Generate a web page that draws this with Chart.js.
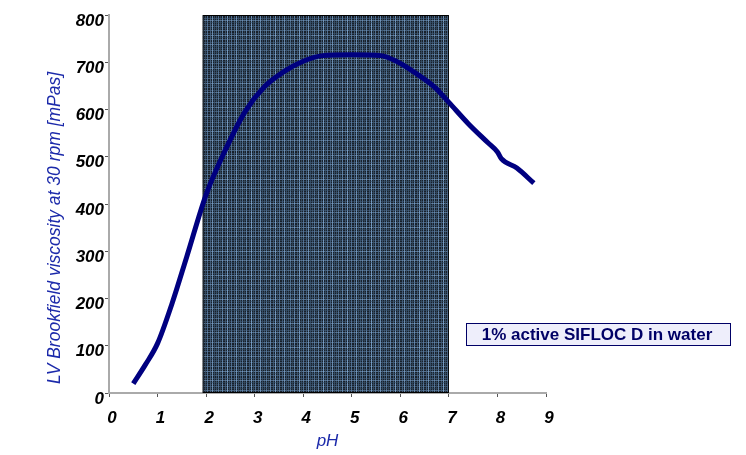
<!DOCTYPE html>
<html>
<head>
<meta charset="utf-8">
<script src="https://cdn.jsdelivr.net/npm/chart.js@4/dist/chart.umd.min.js"></script>
<style>
  html, body { margin: 0; padding: 0; background: #fff; }
  #wrap { width: 746px; height: 455px; }
</style>
</head>
<body>
<div id="wrap"><canvas id="grafica"></canvas></div>
<script>
// valores
const phValues = [0.5, 0.75, 1.0, 1.3, 1.6, 2.0, 2.4, 2.8, 3.2, 3.6, 4.0, 4.4, 5.0, 5.6, 5.9, 6.3, 6.7, 7.0, 7.4, 7.8, 8.0, 8.08, 8.4, 8.75]
const viscosity = [20, 60, 105, 190, 288, 420, 515, 595, 648, 680, 702, 714, 716, 714, 703, 678, 648, 615, 570, 530, 510, 496, 476, 444]
const xTicks = [0, 1, 2, 3, 4, 5, 6, 7, 8, 9]
const yTicks = [0, 100, 200, 300, 400, 500, 600, 700, 800]
const shadeRange = [1.93, 7.0]
const boxLabel = '1% active SIFLOC D in water'
const yTitle = 'LV Brookfield viscosity at 30 rpm [mPas]'

// textura cuadriculada de la zona sombreada
function makePattern(ctx) {
    const c = document.createElement('canvas')
    c.width = 24; c.height = 24
    const p = c.getContext('2d')
    p.fillStyle = '#18202a'
    p.fillRect(0, 0, 24, 24)
    const cols = [[0, '#3f5a76'], [2, '#5d82a8'], [4, '#33485e'], [6, '#6b93bd'], [9, '#445f7c'],
                  [11, '#86b0dc'], [13, '#3a536c'], [15, '#5c80a6'], [18, '#4b6888'], [20, '#7aa2cc'], [22, '#3b5570']]
    cols.forEach(([pos, col]) => {
        p.fillStyle = col
        p.globalAlpha = 0.8
        p.fillRect(pos, 0, 1, 24)
        p.globalAlpha = 0.55
        p.fillRect(0, pos, 24, 1)
    })
    p.globalAlpha = 1
    return ctx.createPattern(c, 'repeat')
}

const extras = {
    id: 'extras',
    beforeDatasetsDraw(chart) {
        const {ctx, scales: {x, y}} = chart
        const x0 = x.getPixelForValue(shadeRange[0])
        const x1 = x.getPixelForValue(shadeRange[1])
        ctx.save()
        ctx.fillStyle = makePattern(ctx)
        ctx.fillRect(x0, y.top, x1 - x0, y.bottom - y.top)
        ctx.strokeStyle = '#000'
        ctx.lineWidth = 1
        ctx.strokeRect(x0 + 0.5, y.top + 0.5, x1 - x0 - 1, y.bottom - y.top - 1)
        ctx.restore()
    },
    afterDraw(chart) {
        const ctx = chart.ctx
        ctx.save()
        // caja de texto
        ctx.fillStyle = '#eeeefb'
        ctx.fillRect(466, 323, 265, 23)
        ctx.strokeStyle = '#000066'
        ctx.lineWidth = 1
        ctx.strokeRect(466.5, 323.5, 264, 22)
        ctx.fillStyle = '#000066'
        ctx.font = 'bold 17px "Liberation Sans", Arial, sans-serif'
        ctx.textAlign = 'center'
        ctx.textBaseline = 'middle'
        ctx.fillText(boxLabel, 597, 335)
        // titulo eje y
        ctx.translate(55, 228)
        ctx.rotate(-Math.PI / 2)
        ctx.fillStyle = '#1c2aaa'
        ctx.font = 'italic 17.5px "Liberation Sans", Arial, sans-serif'
        ctx.fillText(yTitle, 0, 0)
        ctx.restore()
    }
}

const ctx = document.getElementById('grafica').getContext('2d')
const myChart = new Chart(ctx, {
    type: 'line',
    data: {
        datasets: [{
            data: phValues.map((v, i) => ({x: v, y: viscosity[i]})),
            borderColor: '#000080',
            borderWidth: 5,
            pointRadius: 0,
            cubicInterpolationMode: 'monotone',
            fill: false
        }]
    },
    options: {
        responsive: true,
        maintainAspectRatio: false,
        animation: false,
        layout: { padding: { top: 15, right: 200, left: 0, bottom: 0 } },
        plugins: { legend: { display: false }, tooltip: { enabled: false } },
        scales: {
            x: {
                type: 'linear',
                min: 0, max: 9,
                afterBuildTicks: s => { s.ticks = xTicks.map(v => ({value: v})) },
                afterFit: s => { s.height = 62 },
                grid: { drawOnChartArea: false, tickLength: 4, tickColor: '#555' },
                border: { color: '#aaa', width: 2 },
                ticks: {
                    color: '#000',
                    font: { family: '"Liberation Sans", Arial, sans-serif', size: 17, style: 'italic', weight: 'bold' },
                    padding: 11,
                    labelOffset: 3,
                    maxRotation: 0
                },
                title: {
                    display: true,
                    text: 'pH',
                    color: '#1c2aaa',
                    font: { family: '"Liberation Sans", Arial, sans-serif', size: 17, style: 'italic' },
                    padding: { top: 4 }
                }
            },
            y: {
                min: 0, max: 800,
                afterBuildTicks: s => { s.ticks = yTicks.map(v => ({value: v})) },
                afterFit: s => { s.width = 109 },
                grid: { drawOnChartArea: false, tickLength: 4, tickColor: '#555' },
                border: { color: '#aaa', width: 2 },
                ticks: {
                    color: '#000',
                    font: { family: '"Liberation Sans", Arial, sans-serif', size: 17, style: 'italic', weight: 'bold' },
                    padding: 1,
                    labelOffset: 6
                }
            }
        }
    },
    plugins: [extras]
})
</script>
</body>
</html>
